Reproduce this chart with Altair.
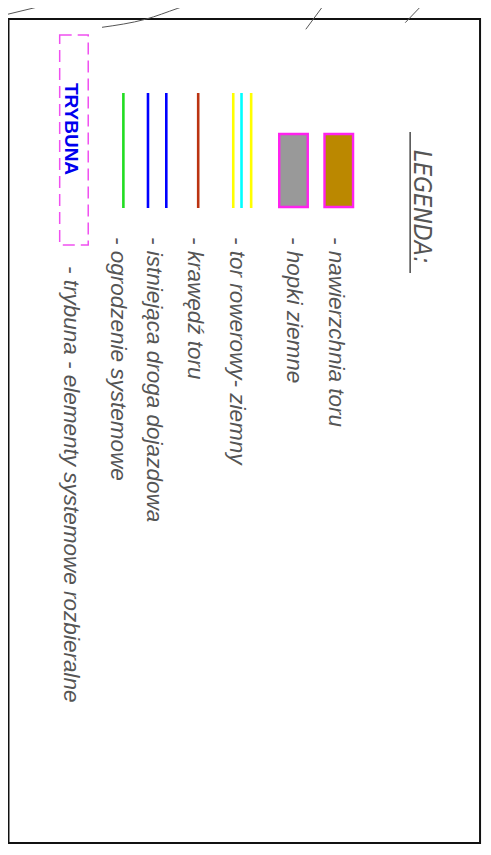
import altair as alt
import pandas as pd

# ---------------- content ----------------
legend_title = "LEGENDA:"
labels = [
    "- nawierzchnia toru",
    "- hopki ziemne",
    "- tor rowerowy- ziemny",
    "- krawędź toru",
    "- istniejąca droga dojazdowa",
    "- ogrodzenie systemowe",
    "- trybuna - elementy systemowe rozbieralne",
]
swatch_names = ["nawierzchnia toru", "hopki ziemne"]
swatch_fills = ["#BB8800", "#999999"]
line_names = ["tor rowerowy", "tor rowerowy (oś)", "tor rowerowy",
              "krawędź toru", "droga dojazdowa", "droga dojazdowa",
              "ogrodzenie systemowe"]
line_colors = ["#FFFF00", "#00FFFF", "#FFFF00", "#BB3311",
               "#0000FF", "#0000FF", "#22DD22"]
stand_label = "TRYBUNA"

# ---------------- layout (drawing coordinates, px) ----------------
label_x = [327, 284, 226, 183, 142, 105, 57]
label_y = [237, 237, 237, 237, 237, 237, 266]
swatch_x0 = [322, 276]
swatch_x1 = [351, 305]
swatch_y0, swatch_y1 = 134, 207
line_x = [229.3, 237.7, 247.5, 193.7, 142.7, 161.3, 117.7]
line_y0, line_y1 = 93, 208
frame = dict(x=1, x2=480, y=19, y2=843)
stand_box = dict(x=53, x2=82, y=35, y2=245)
title_pos = dict(x=413, y=150)
underline = dict(x=409, y=132, y2=273)
stand_text_pos = dict(x=58, y=129)
# fragments of the surrounding drawing visible above the frame
edge_id = ["a", "a", "b", "b", "b", "b", "c", "c", "d", "d"]
edge_x = [0, 60, 96, 140, 173, 197, 303, 325, 404, 426]
edge_y = [14.3, 0, 27.3, 19.3, 8.3, 0, 29.3, 0, 22.7, 0]

# ---------------- scales ----------------
W, H = 475, 836
xs = alt.Scale(domain=[0.5, 483], range=[0, W], nice=False, zero=False)
ys = alt.Scale(domain=[8, 844], range=[0, H], nice=False, zero=False)


def X(f="x"):
    return alt.X(f"{f}:Q", scale=xs, axis=None)


def Y(f="y"):
    return alt.Y(f"{f}:Q", scale=ys, axis=None)


# frame
frame_df = pd.DataFrame([frame])
frame_layer = alt.Chart(frame_df).mark_rect(
    fillOpacity=0, stroke="#111111", strokeWidth=2
).encode(x=X(), x2="x2:Q", y=Y(), y2="y2:Q")

# outside drawing fragments
edge_df = pd.DataFrame({"id": edge_id, "x": edge_x, "y": edge_y,
                        "o": list(range(len(edge_x)))})
edge_layer = alt.Chart(edge_df).mark_line(
    color="#555555", strokeWidth=1, interpolate="monotone"
).encode(x=X(), y=Y(), detail="id:N", order="o:Q")

# underline of the title
ul_df = pd.DataFrame([underline])
ul_layer = alt.Chart(ul_df).mark_rule(color="#555555", strokeWidth=1.6).encode(
    x=X(), y=Y(), y2="y2:Q")

# title
title_df = pd.DataFrame([{**title_pos, "t": legend_title}])
title_layer = alt.Chart(title_df).mark_text(
    angle=90, align="left", baseline="alphabetic",
    font="DejaVu Sans Condensed, Liberation Sans, sans-serif",
    fontSize=24.5, fontStyle="italic", color="#555555"
).encode(x=X(), y=Y(), text="t:N")

# swatches
sw_df = pd.DataFrame({"name": swatch_names, "fill": swatch_fills,
                      "x": swatch_x0, "x2": swatch_x1,
                      "y": [swatch_y0] * 2, "y2": [swatch_y1] * 2})
sw_layer = alt.Chart(sw_df).mark_rect(
    stroke="#FF22EE", strokeWidth=2.4
).encode(x=X(), x2="x2:Q", y=Y(), y2="y2:Q",
         fill=alt.Fill("fill:N", scale=None))

# line samples
ln_df = pd.DataFrame({"name": line_names, "color": line_colors,
                      "x": line_x, "y": [line_y0] * len(line_x),
                      "y2": [line_y1] * len(line_x)})
ln_layer = alt.Chart(ln_df).mark_rule(strokeWidth=2.6).encode(
    x=X(), y=Y(), y2="y2:Q", color=alt.Color("color:N", scale=None))

# stand (trybuna) symbol
sb_df = pd.DataFrame([stand_box])
sb_layer = alt.Chart(sb_df).mark_rect(
    fillOpacity=0, stroke="#F050F0", strokeWidth=1.5, strokeDash=[12, 6]
).encode(x=X(), x2="x2:Q", y=Y(), y2="y2:Q")

st_df = pd.DataFrame([{**stand_text_pos, "t": stand_label}])
st_layer = alt.Chart(st_df).mark_text(
    angle=90, align="center", baseline="alphabetic",
    font="Liberation Sans, sans-serif",
    fontSize=19, fontWeight="bold", color="#0000EE"
).encode(x=X(), y=Y(), text="t:N")

# labels
lb_df = pd.DataFrame({"t": labels, "x": label_x, "y": label_y})
lb_layer = alt.Chart(lb_df).mark_text(
    angle=90, align="left", baseline="alphabetic",
    font="Liberation Sans, sans-serif", fontSize=22.5, fontStyle="italic",
    color="#555555"
).encode(x=X(), y=Y(), text="t:N")

chart = alt.layer(
    frame_layer, edge_layer, ul_layer, title_layer, sw_layer, ln_layer,
    sb_layer, st_layer, lb_layer
).properties(
    width=W, height=H, padding=0,
    autosize=alt.AutoSizeParams(type="none")
).configure_view(stroke=None)

chart.save("out.html", embed_options={"renderer": "svg", "actions": False})
